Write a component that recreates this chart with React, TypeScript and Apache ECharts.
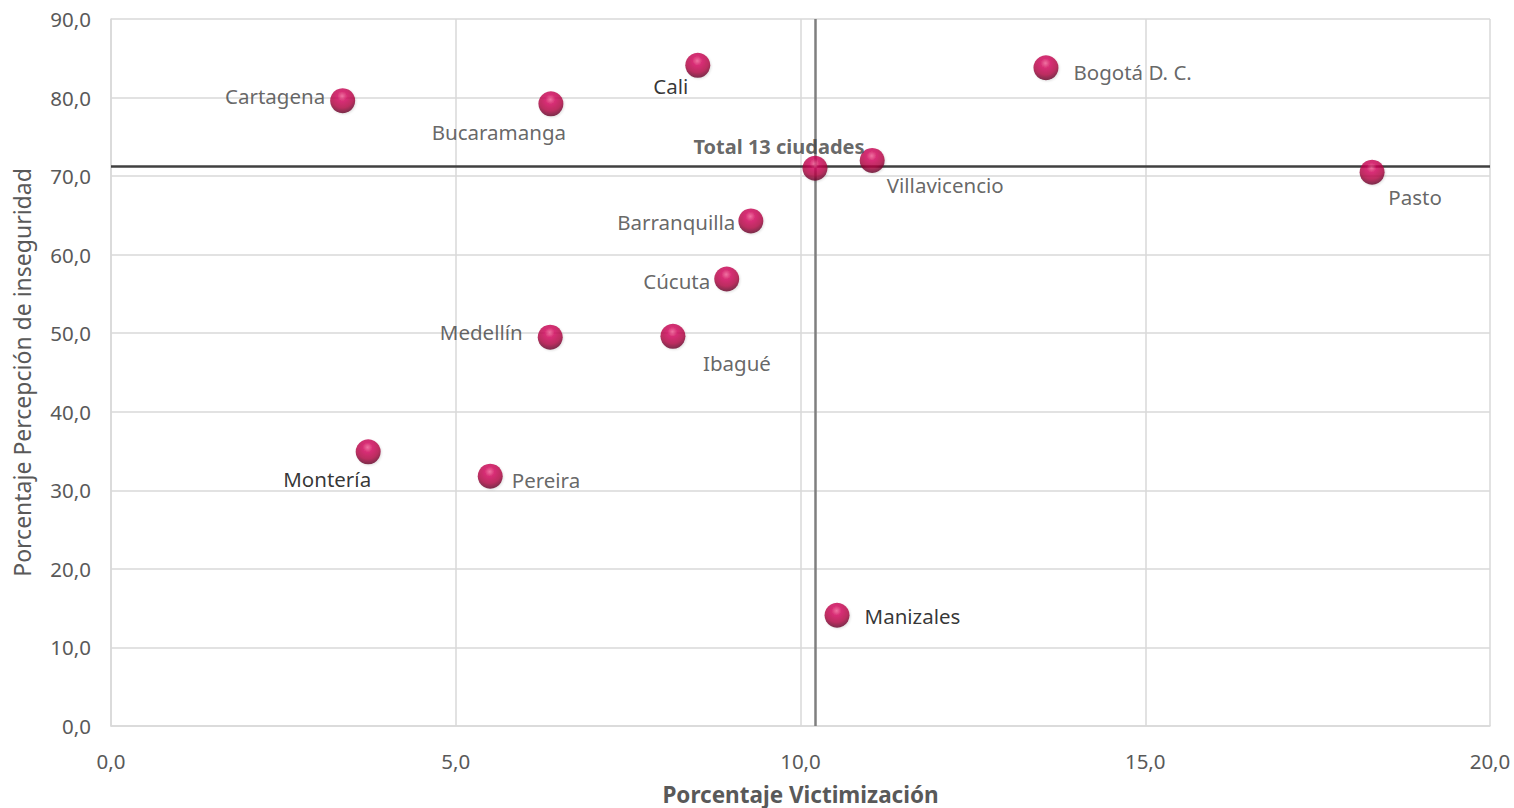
import React, { useEffect, useRef } from "react";
import * as echarts from "echarts";

const cities = [
  "Cartagena", "Bucaramanga", "Cali", "Bogotá D. C.", "Total 13 ciudades", "Villavicencio", "Pasto",
  "Barranquilla", "Cúcuta", "Medellín", "Ibagué", "Montería", "Pereira", "Manizales",
];
const victimizacion = [3.36, 6.38, 8.51, 13.56, 10.21, 11.04, 18.29, 9.28, 8.93, 6.37, 8.15, 3.73, 5.5, 10.53];
const percepcion = [79.6, 79.2, 84.1, 83.8, 71.0, 72.0, 70.5, 64.3, 56.9, 49.5, 49.6, 34.9, 31.8, 14.1];
const xTicks = [0, 5, 10, 15, 20];
const yTicks = [0, 10, 20, 30, 40, 50, 60, 70, 80, 90];
const refVictimizacion = 10.21;
const refPercepcion = 71.3;

// label placement per city: [position, offsetX, offsetY, color, bold]
const labelPlacement: Record<string, [string, number, number, string, boolean]> = {
  "Cartagena": ["left", 0, -5, "#404040", false],
  "Bucaramanga": ["bottom", -52, 0, "#404040", false],
  "Cali": ["bottom", -27, -7, "#000000", false],
  "Bogotá D. C.": ["right", 10, 4, "#404040", false],
  "Total 13 ciudades": ["top", -36, 6, "#404040", true],
  "Villavicencio": ["bottom", 73, -3, "#404040", false],
  "Pasto": ["bottom", 43, -3, "#404040", false],
  "Barranquilla": ["left", 2, 1, "#404040", false],
  "Cúcuta": ["left", 1, 2, "#404040", false],
  "Medellín": ["left", -10, -5, "#404040", false],
  "Ibagué": ["bottom", 64, -1, "#404040", false],
  "Montería": ["bottom", -41, -1, "#000000", false],
  "Pereira": ["right", 4, 4, "#404040", false],
  "Manizales": ["right", 10, 1, "#000000", false],
};

const fmt = (v: number) => v.toFixed(1).replace(".", ",");

export default function App() {
  const ref = useRef<HTMLDivElement>(null);
  useEffect(() => {
    if (!ref.current) return;
    const chart = echarts.init(ref.current, null, { renderer: "svg" });
    const sphere = new echarts.graphic.RadialGradient(0.48, 0.32, 0.66, [
      { offset: 0, color: "#f05590" },
      { offset: 0.28, color: "#d2075a" },
      { offset: 0.7, color: "#b0003f" },
      { offset: 1, color: "#650026" },
    ]);
    const data = cities.map((c, i) => {
      const [pos, dx, dy, color, bold] = labelPlacement[c];
      return {
        name: c,
        value: [victimizacion[i], percepcion[i]],
        label: {
          show: true,
          formatter: c,
          position: pos,
          offset: [dx, dy],
          color,
          fontWeight: bold ? "bold" : "normal",
          fontSize: bold ? 20 : 20.5,
          fontFamily: "Noto Sans",
        },
      };
    });
    chart.setOption({
      animation: false,
      grid: { left: 111, right: 24, top: 19, bottom: 82, containLabel: false, outerBoundsMode: "none" },
      xAxis: {
        type: "value",
        min: 0,
        max: 20,
        interval: 5,
        name: "Porcentaje Victimización",
        nameLocation: "middle",
        nameGap: 57,
        nameTextStyle: { fontSize: 22.5, lineHeight: 22, fontWeight: "bold", color: "#595959", fontFamily: "Noto Sans" },
        axisLine: { show: true, lineStyle: { color: "#d9d9d9", width: 1.5 } },
        axisTick: { show: false },
        axisLabel: { fontSize: 20.5, color: "#595959", fontFamily: "Noto Sans", margin: 24, formatter: (v: number) => fmt(v) },
        splitLine: { show: true, lineStyle: { color: "#d9d9d9", width: 1.5 } },
      },
      yAxis: {
        type: "value",
        min: 0,
        max: 90,
        interval: 10,
        name: "Porcentaje Percepción de inseguridad",
        nameLocation: "middle",
        nameGap: 78,
        nameTextStyle: { fontSize: 23, color: "#595959", fontFamily: "Noto Sans" },
        axisLine: { show: true, lineStyle: { color: "#d9d9d9", width: 1.5 } },
        axisTick: { show: false },
        axisLabel: { fontSize: 20.5, color: "#595959", fontFamily: "Noto Sans", margin: 20, formatter: (v: number) => fmt(v) },
        splitLine: { show: true, lineStyle: { color: "#d9d9d9", width: 1.5 } },
      },
      series: [
        {
          type: "scatter",
          symbol: "circle",
          symbolSize: 25,
          itemStyle: {
            color: sphere,
            shadowColor: "rgba(0,0,0,0.15)",
            shadowBlur: 2,
            shadowOffsetX: 1,
            shadowOffsetY: 1,
          },
          data,
          markLine: {
            silent: true,
            symbol: "none",
            label: { show: false },
            z: 1,
            data: [
              { yAxis: refPercepcion, lineStyle: { color: "#404040", width: 2.5, type: "solid" } },
              { xAxis: refVictimizacion, lineStyle: { color: "#7f7f7f", width: 2.5, type: "solid" } },
            ],
          },
        },
      ],
    });
    return () => chart.dispose();
  }, []);
  return <div ref={ref} style={{ position: "absolute", left: 0, top: 0, width: 1514, height: 808 }} />;
}
